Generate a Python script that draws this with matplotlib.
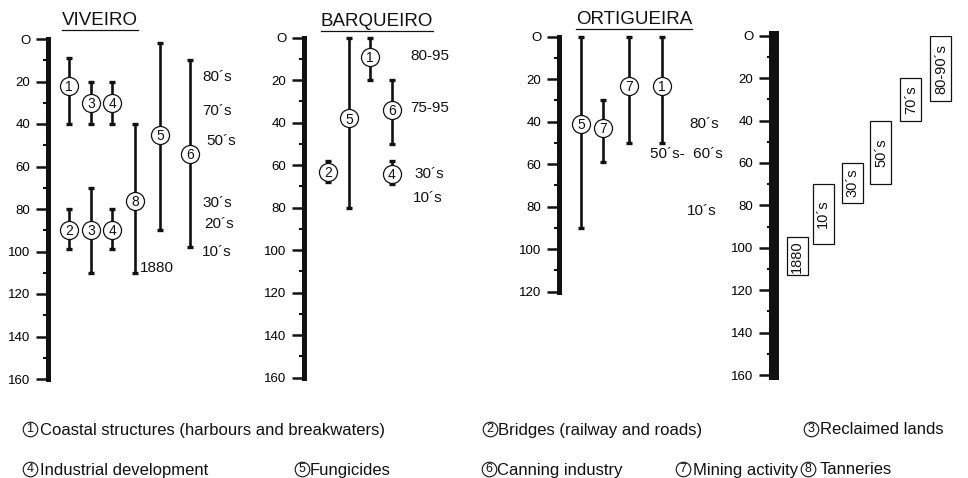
import matplotlib.pyplot as plt

plt.rcParams['font.family'] = ['Liberation Sans', 'DejaVu Sans']

W, H = 968, 478
INK = '#111111'

# --- VIVEIRO ---
viv_ids = [1, 3, 4, 8, 5, 6, 2, 3, 4]
viv_start = [9, 20, 20, 40, 2, 10, 80, 70, 80]
viv_end = [40, 40, 40, 110, 90, 98, 99, 110, 99]
viv_mark = [22, 30, 30, 76, 45, 54, 90, 90, 90]
viv_labels = ['80´s', '70´s', '50´s', '30´s', '20´s', '10´s', '1880']
viv_label_y = [18, 34, 48, 77, 87, 100, 108]

# --- BARQUEIRO ---
bar_ids = [1, 5, 6, 2, 4]
bar_start = [0, 0, 20, 58, 58]
bar_end = [20, 80, 50, 68, 69]
bar_mark = [9, 38, 34, 63, 64]
bar_labels = ['80-95', '75-95', '30´s', '10´s']
bar_label_y = [8.5, 33, 64, 75.5]

# --- ORTIGUEIRA ---
ort_ids = [5, 7, 7, 1]
ort_start = [0, 30, 0, 0]
ort_end = [90, 59, 50, 50]
ort_mark = [41, 43, 23, 23]
ort_labels = ['80´s', '50´s-  60´s', '10´s']
ort_label_y = [41, 55, 82]

# --- periods ---
period_labels = ['1880', '10´s', '30´s', '50´s', '70´s', '80-90´s']
period_start = [95, 70, 60, 40, 20, 0]
period_end = [113, 98, 79, 70, 40, 31]

legend_ids = [1, 2, 3, 4, 5, 6, 7, 8]
legend_labels = ['Coastal structures (harbours and breakwaters)',
                 'Bridges (railway and roads)', 'Reclaimed lands',
                 'Industrial development', 'Fungicides', 'Canning industry',
                 'Mining activity', 'Tanneries']

# layout in pixels: spine x, y of 0, y of ymax, ymax, panel width
viv_panel = (48, 39, 379, 160, 200)
bar_panel = (304, 37.7, 377.7, 160, 160)
ort_panel = (559, 36.7, 291.7, 120, 180)
per_panel = (774, 35.7, 375, 160, 190)

viv_x = [21, 43, 64, 87, 112, 142, 21, 43, 64]
viv_label_x = [154, 154, 158, 154, 156, 154, 92]
bar_x = [66, 45, 88, 24, 88]
bar_label_x = [106, 106, 110, 109]
ort_x = [22, 44, 70, 103]
ort_label_x = [130, 91, 128]
period_x = [23, 49, 78, 107, 137, 167]

legend_pos = [(30, 40, 434.5), (490, 498, 434.5), (811, 820, 434.5),
              (30, 40, 474.5), (302, 310, 474.5), (489, 497, 474.5),
              (683, 693, 474.5), (808, 820, 474.5)]

fig = plt.figure(figsize=(W / 100, H / 100), dpi=100)

ov = fig.add_axes([0, 0, 1, 1])
ov.set_xlim(0, W)
ov.set_ylim(H, 0)
ov.axis('off')


def make_axis(panel, spine_w=3.6, major_len=8.6, minor_len=3.6):
    sx, y0, y1, ymax, width = panel
    ax = fig.add_axes([sx / W, 1 - y1 / H, width / W, (y1 - y0) / H])
    ax.set_xlim(0, width)
    ax.set_ylim(ymax, 0)
    ax.patch.set_visible(False)
    for s in ['top', 'right', 'bottom']:
        ax.spines[s].set_visible(False)
    ax.spines['left'].set_linewidth(spine_w)
    ax.spines['left'].set_color(INK)
    ax.spines['left'].set_capstyle('projecting')
    ticks = list(range(0, ymax + 1, 20))
    ax.set_yticks(ticks)
    ax.set_yticklabels(['O'] + [str(t) for t in ticks[1:]])
    ax.set_yticks(list(range(10, ymax, 20)), minor=True)
    ax.tick_params(axis='y', which='major', length=major_len, width=1.8,
                   pad=4, labelsize=9.5, color=INK)
    ax.tick_params(axis='y', which='minor', length=minor_len, width=1.5, color=INK)
    ax.set_xticks([])
    return ax


def draw_ranges(ax, ids, xs, start, end, mark):
    ax.vlines(xs, start, end, color=INK, lw=1.9, zorder=2)
    ax.plot(xs, start, '_', ms=5, mew=2.4, color=INK, zorder=2, clip_on=False)
    ax.plot(xs, end, '_', ms=5, mew=2.4, color=INK, zorder=2, clip_on=False)
    ax.plot(xs, mark, 'o', ms=13, mfc='white', mec=INK, mew=0.9, ls='none',
            zorder=3, clip_on=False)
    for i, x, m in zip(ids, xs, mark):
        ax.text(x, m + 0.5, str(i), ha='center', va='center', fontsize=10,
                color=INK, zorder=4)


def draw_labels(ax, labels, xs, ys):
    for t, x, y in zip(labels, xs, ys):
        ax.text(x, y, t, ha='left', va='center', fontsize=11, color=INK)


ax1 = make_axis(viv_panel)
draw_ranges(ax1, viv_ids, viv_x, viv_start, viv_end, viv_mark)
draw_labels(ax1, viv_labels, viv_label_x, viv_label_y)

ax2 = make_axis(bar_panel)
draw_ranges(ax2, bar_ids, bar_x, bar_start, bar_end, bar_mark)
draw_labels(ax2, bar_labels, bar_label_x, bar_label_y)

ax3 = make_axis(ort_panel)
draw_ranges(ax3, ort_ids, ort_x, ort_start, ort_end, ort_mark)
draw_labels(ax3, ort_labels, ort_label_x, ort_label_y)

ax4 = make_axis(per_panel, spine_w=7.2, major_len=10.8, minor_len=5.3)
heights = [e - s for s, e in zip(period_start, period_end)]
ax4.bar(period_x, heights, bottom=period_start, width=21, fill=False,
        edgecolor=INK, lw=0.9)
for x, s, e, t in zip(period_x, period_start, period_end, period_labels):
    ax4.text(x, (s + e) / 2, t, rotation=90, ha='center', va='center',
             fontsize=10.5, color=INK)

# titles
titles = [ov.text(100, 20, 'VIVEIRO', ha='center', va='center', fontsize=13.5, color=INK),
          ov.text(377, 21, 'BARQUEIRO', ha='center', va='center', fontsize=13.5, color=INK),
          ov.text(634, 19, 'ORTIGUEIRA', ha='center', va='center', fontsize=13.5, color=INK)]

# legend
for i, t, (cx, tx, y) in zip(legend_ids, legend_labels, legend_pos):
    ov.plot(cx, y - 5.5, 'o', ms=10.5, mfc='white', mec=INK, mew=0.8)
    ov.text(cx, y - 5, str(i), ha='center', va='center', fontsize=9, color=INK)
    ov.text(tx, y, t, ha='left', va='baseline', fontsize=12, color=INK)

# underline the titles
fig.canvas.draw()
inv = ov.transData.inverted()
for t in titles:
    bb = t.get_window_extent()
    (x0, _), (x1, y) = inv.transform([(bb.x0, bb.y0), (bb.x1, bb.y0)])
    ov.plot([x0, x1], [y + 1, y + 1], color=INK, lw=0.9)

fig.savefig('out.png', dpi=100)
